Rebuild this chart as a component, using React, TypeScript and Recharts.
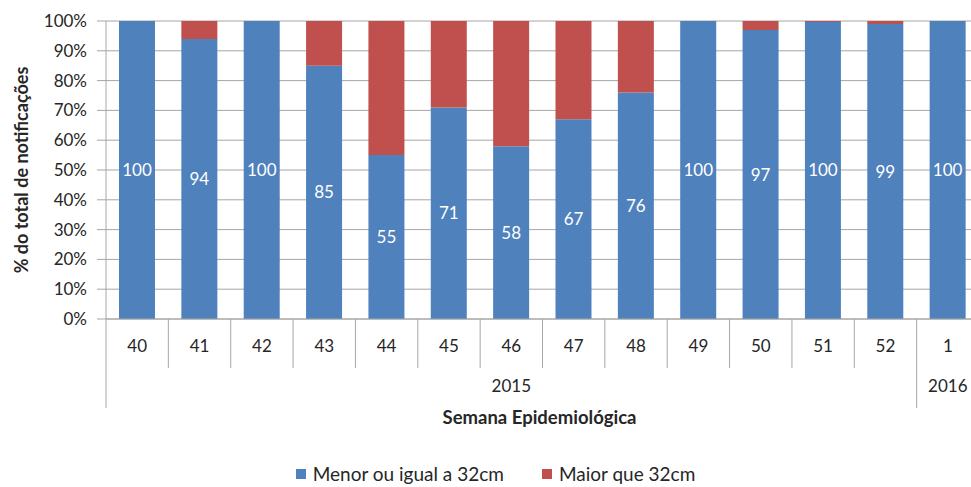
import { BarChart, Bar, XAxis, YAxis, CartesianGrid, LabelList, Label } from "recharts";

// ---- data ----
const weeks = ["40", "41", "42", "43", "44", "45", "46", "47", "48", "49", "50", "51", "52", "1"];
const years = ["2015", "2015", "2015", "2015", "2015", "2015", "2015", "2015", "2015", "2015", "2015", "2015", "2015", "2016"];
const menorOuIgual = [100, 94, 100, 85, 55, 71, 58, 67, 76, 100, 97, 99.7, 99, 100];
const maiorQue = [0, 6, 0, 15, 45, 29, 42, 33, 24, 0, 3, 0.3, 1, 0];
const yTicks = [0, 10, 20, 30, 40, 50, 60, 70, 80, 90, 100];

const data = weeks.map((w, i) => ({ week: w, year: years[i], menor: menorOuIgual[i], maior: maiorQue[i] }));

const BLUE = "#4F81BD";
const RED = "#C0504D";
const GRID = "#A6A6A6";
const TEXT = "#262626";
const FONT = "Lato, 'Open Sans', sans-serif";

// the plot runs a little past the right edge of the page, like the original
const CHART_W = 998;
const CHART_H = 487;
const MARGIN = { top: 21, right: 19, bottom: 0, left: 8 };
const Y_W = 98;
const X_H = 168;
const CAT_W = (CHART_W - MARGIN.left - MARGIN.right - Y_W) / weeks.length;

const WeekTick = (props: any) => {
  const { x, y, payload, index } = props;
  const half = CAT_W / 2;
  const i = index ?? payload.index;
  const isGroupEnd = i === years.length - 1 || years[i + 1] !== years[i];
  const isGroupStart = i === 0 || years[i - 1] !== years[i];
  let groupEnd = i;
  while (groupEnd + 1 < years.length && years[groupEnd + 1] === years[i]) groupEnd++;
  const yearX = x + ((groupEnd - i) / 2) * CAT_W;
  return (
    <g>
      <text x={x} y={y + 27} dy="0.35em" textAnchor="middle" fontSize={17} fill={TEXT} fontFamily={FONT}>
        {payload.value}
      </text>
      <line x1={x + half} x2={x + half} y1={y} y2={y + (isGroupEnd ? 89 : 49)} stroke={GRID} strokeWidth={1} />
      {i === 0 && <line x1={x - half} x2={x - half} y1={y} y2={y + 89} stroke={GRID} strokeWidth={1} />}
      {isGroupStart && (
        <text x={yearX} y={y + 67} dy="0.35em" textAnchor="middle" fontSize={17} fill={TEXT} fontFamily={FONT}>
          {years[i]}
        </text>
      )}
    </g>
  );
};

export default function App() {
  return (
    <div style={{ position: "absolute", left: 0, top: 0, width: 971, height: 487, overflow: "hidden", fontFamily: FONT }}>
      <BarChart width={CHART_W} height={CHART_H} data={data} margin={MARGIN}>
        <CartesianGrid vertical={false} stroke={GRID} strokeWidth={1} />
        <XAxis
          dataKey="week"
          height={X_H}
          interval={0}
          tickLine={false}
          tickSize={0}
          tickMargin={0}
          axisLine={{ stroke: GRID }}
          tick={(p: any) => <WeekTick {...p} />}
        >
          <Label
            content={(p: any) => {
              const vb = p.viewBox;
              return (
                <text x={vb.x + vb.width / 2 - 3} y={vb.y + 99} dy="0.35em" textAnchor="middle" fontSize={18.5} fontWeight="bold" fill={TEXT} fontFamily={FONT}>
                  Semana Epidemiológica
                </text>
              );
            }}
          />
        </XAxis>
        <YAxis
          width={Y_W}
          domain={[0, 100]}
          ticks={yTicks}
          interval={0}
          tickFormatter={(v: number) => `${v}%`}
          tickSize={9}
          tickMargin={10}
          axisLine={{ stroke: GRID }}
          tickLine={{ stroke: GRID }}
          tick={{ fontSize: 17, fill: TEXT, fontFamily: FONT }}
        >
          <Label
            content={(p: any) => {
              const vb = p.viewBox;
              const cx = vb.x + 14;
              const cy = vb.y + vb.height / 2;
              return (
                <text x={cx} y={cy} dy="0.35em" textAnchor="middle" fontSize={18} fontWeight="bold" fill={TEXT} fontFamily={FONT} transform={`rotate(-90 ${cx} ${cy})`}>
                  % do total de notificações
                </text>
              );
            }}
          />
        </YAxis>
        <Bar dataKey="menor" stackId="a" fill={BLUE} barSize={36} isAnimationActive={false} name="Menor ou igual a 32cm">
          <LabelList
            dataKey="menor"
            position="center"
            formatter={(v: any) => Math.round(Number(v))}
            fill="#FFFFFF"
            fontSize={17}
            fontFamily={FONT}
          />
        </Bar>
        <Bar dataKey="maior" stackId="a" fill={RED} barSize={36} isAnimationActive={false} name="Maior que 32cm" />
      </BarChart>
      <div
        style={{
          position: "absolute",
          left: 0,
          top: 462,
          width: 991,
          display: "flex",
          justifyContent: "center",
          alignItems: "center",
          gap: 38,
          fontSize: 19,
          color: TEXT,
        }}
      >
        <div style={{ display: "flex", alignItems: "center", gap: 7 }}>
          <div style={{ width: 10, height: 10, background: BLUE }} />
          <span>Menor ou igual a 32cm</span>
        </div>
        <div style={{ display: "flex", alignItems: "center", gap: 7 }}>
          <div style={{ width: 10, height: 10, background: RED }} />
          <span>Maior que 32cm</span>
        </div>
      </div>
    </div>
  );
}
